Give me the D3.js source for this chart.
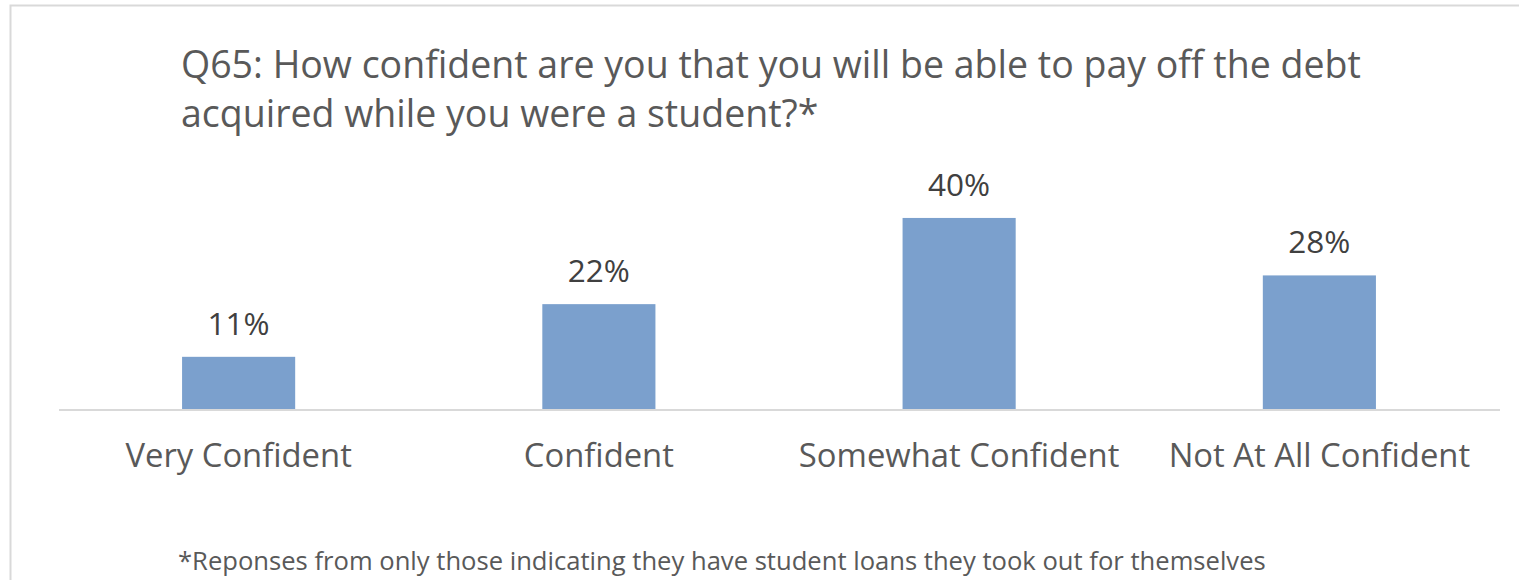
<!DOCTYPE html>
<html>
<head>
<meta charset="utf-8">
<script src="https://cdn.jsdelivr.net/npm/d3@7"></script>
<style>
  html, body { margin: 0; padding: 0; background: #ffffff; }
  svg { display: block; }
  text { font-family: "Open Sans", "Noto Sans", sans-serif; }
</style>
</head>
<body>
<svg id="chart" width="1519" height="580"></svg>
<script>
// Survey responses (percent of respondents)
const categories = ["Very Confident", "Confident", "Somewhat Confident", "Not At All Confident"];
const values = [11, 22, 40, 28];
const titleLines = [
  "Q65: How confident are you that you will be able to pay off the debt",
  "acquired while you were a student?*"
];
const footnote = "*Reponses from only those indicating they have student loans they took out for themselves";

const svg = d3.select("#chart");

// Chart frame
svg.append("rect")
  .attr("x", 10.5).attr("y", 5.5)
  .attr("width", 1530).attr("height", 600)
  .attr("fill", "#ffffff")
  .attr("stroke", "#d9d9d9")
  .attr("stroke-width", 2);

// Title
const title = svg.append("text")
  .attr("fill", "#595959")
  .attr("font-size", 37.5);
title.selectAll("tspan")
  .data(titleLines)
  .join("tspan")
  .attr("x", 181)
  .attr("y", (d, i) => 78 + i * 49)
  .text(d => d);

// Scales
const x = d3.scaleBand()
  .domain(categories)
  .range([58.5, 1499.5])
  .paddingInner(0.686)
  .paddingOuter(0.343);

const y = d3.scaleLinear()
  .domain([0, 45])
  .range([409.5, 194]);

// Bars
svg.append("g")
  .selectAll("rect")
  .data(values)
  .join("rect")
  .attr("x", (d, i) => x(categories[i]))
  .attr("width", x.bandwidth())
  .attr("y", d => y(d))
  .attr("height", d => y(0) - y(d))
  .attr("fill", "#7ba0cd");

// Value labels
svg.append("g")
  .selectAll("text")
  .data(values)
  .join("text")
  .attr("x", (d, i) => x(categories[i]) + x.bandwidth() / 2)
  .attr("y", d => y(d) - 22)
  .attr("text-anchor", "middle")
  .attr("font-size", 31.5)
  .attr("fill", "#404040")
  .text(d => d + "%");

// Category axis
const axis = svg.append("g")
  .attr("transform", `translate(0,${y(0)})`)
  .call(d3.axisBottom(x).tickSize(0).tickSizeOuter(0).tickPadding(0));
axis.select(".domain")
  .attr("stroke", "#d9d9d9")
  .attr("stroke-width", 2);
axis.selectAll(".tick text")
  .attr("dy", null)
  .attr("y", 57)
  .attr("font-family", "'Open Sans', 'Noto Sans', sans-serif")
  .attr("font-size", 32.8)
  .attr("fill", "#595959");

// Footnote
svg.append("text")
  .attr("x", 178)
  .attr("y", 570)
  .attr("font-size", 25.6)
  .attr("fill", "#595959")
  .text(footnote);
</script>
</body>
</html>
